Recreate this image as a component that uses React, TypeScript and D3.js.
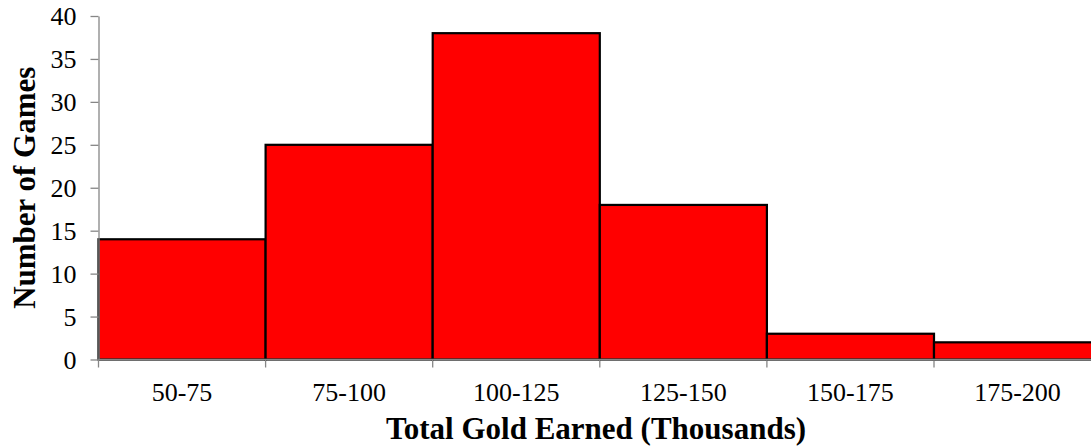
import { useRef, useEffect } from 'react'
import * as d3 from 'd3'

const CATEGORIES = ['50-75', '75-100', '100-125', '125-150', '150-175', '175-200']
const GAMES = [14, 25, 38, 18, 3, 2]
const Y_TICKS = [0, 5, 10, 15, 20, 25, 30, 35, 40]

const W = 1091
const H = 447
const MARGIN = { top: 16, left: 98.5, bottom: 88 }
const BAND = 167.1
const BAR_FILL = '#FF0000'
const AXIS_LINE = '#868686'
const SERIF = "'Liberation Serif', 'Times New Roman', serif"

export default function App() {
  const svgRef = useRef<SVGSVGElement>(null)

  useEffect(() => {
    document.body.style.margin = '0'
    const svg = svgRef.current
    if (!svg) return
    const sel = d3.select(svg)
    sel.selectAll('*').remove()

    const plotBottom = H - MARGIN.bottom + 0.5
    const x = d3
      .scaleBand()
      .domain(CATEGORIES)
      .range([MARGIN.left, MARGIN.left + BAND * CATEGORIES.length])
      .padding(0)
    const y = d3.scaleLinear().domain([0, 40]).range([plotBottom, MARGIN.top])

    // bars
    sel
      .append('g')
      .selectAll('rect')
      .data(GAMES)
      .enter()
      .append('rect')
      .attr('x', (_, i) => x(CATEGORIES[i])!)
      .attr('width', x.bandwidth())
      .attr('y', (d) => y(d))
      .attr('height', (d) => y(0) - y(d))
      .attr('fill', BAR_FILL)
      .attr('stroke', '#000')
      .attr('stroke-width', 2.2)

    // y axis
    const yAxis = d3.axisLeft(y).tickValues(Y_TICKS).tickSize(8).tickPadding(14).tickSizeOuter(0)
    sel
      .append('g')
      .attr('transform', `translate(${MARGIN.left},0)`)
      .call(yAxis)
      .call((g) => g.select('.domain').attr('stroke', AXIS_LINE).attr('stroke-width', 1.3))
      .call((g) => g.selectAll('.tick line').attr('stroke', AXIS_LINE).attr('stroke-width', 1.3))
      .call((g) =>
        g.selectAll('.tick text')
          .attr('fill', '#000')
          .attr('font-size', '26px')
          .attr('font-family', SERIF)
          .attr('dy', '0.34em'),
      )

    // x axis with boundary ticks
    const xg = sel.append('g')
    xg.append('line')
      .attr('x1', MARGIN.left)
      .attr('x2', W)
      .attr('y1', y(0))
      .attr('y2', y(0))
      .attr('stroke', AXIS_LINE)
      .attr('stroke-width', 1.3)
    xg.selectAll('line.tk')
      .data(CATEGORIES)
      .enter()
      .append('line')
      .attr('class', 'tk')
      .attr('x1', (d) => x(d)!)
      .attr('x2', (d) => x(d)!)
      .attr('y1', y(0))
      .attr('y2', y(0) + 8)
      .attr('stroke', AXIS_LINE)
      .attr('stroke-width', 1.3)
    xg.selectAll('text')
      .data(CATEGORIES)
      .enter()
      .append('text')
      .attr('x', (d) => x(d)! + x.bandwidth() / 2)
      .attr('y', y(0) + 41)
      .attr('text-anchor', 'middle')
      .attr('font-size', '26px')
      .attr('font-family', SERIF)
      .attr('fill', '#000')
      .text((d) => d)

    // titles
    sel
      .append('text')
      .attr('x', 596)
      .attr('y', 439)
      .attr('text-anchor', 'middle')
      .attr('font-size', '31px')
      .attr('font-weight', 'bold')
      .attr('font-family', SERIF)
      .attr('fill', '#000')
      .text('Total Gold Earned (Thousands)')

    sel
      .append('text')
      .attr('transform', `translate(35,${(y(0) + y(40)) / 2}) rotate(-90)`)
      .attr('text-anchor', 'middle')
      .attr('font-size', '31px')
      .attr('font-weight', 'bold')
      .attr('font-family', SERIF)
      .attr('fill', '#000')
      .text('Number of Games')
  }, [])

  return (
    <svg
      ref={svgRef}
      width={W}
      height={H}
      style={{ display: 'block', overflow: 'hidden', background: '#fff' }}
    />
  )
}
